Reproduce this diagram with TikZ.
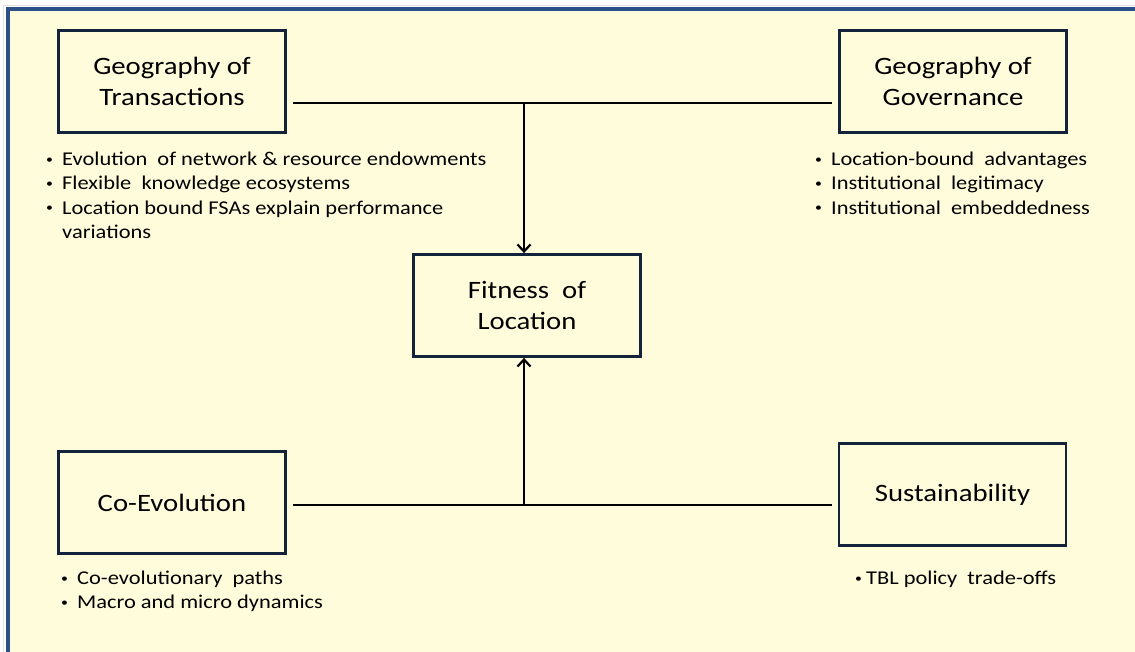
\documentclass[tikz,border=0pt]{standalone}
\usepackage{fontspec}
\setmainfont[FakeStretch=1.15]{Carlito}
\usetikzlibrary{arrows.meta}
\definecolor{bgyellow}{HTML}{FFFCDC}
\definecolor{boxline}{HTML}{14233C}
\definecolor{frameblue}{HTML}{2B4F86}
\tikzset{
  mainbox/.style={draw=boxline, line width=2.8pt, fill=bgyellow, minimum width=227pt, minimum height=102pt, align=center, font=\fontsize{25}{31}\selectfont, text=black, inner sep=0pt},
  bullets/.style={anchor=north west, align=left, font=\fontsize{19.5}{24.2}\selectfont, inner sep=0pt, text=black},
  conn/.style={line width=2.8pt, black},
}
\newcommand{\smallbul}{\raisebox{2.2pt}{\fontsize{12}{12}\selectfont\textbullet}}
\newcommand{\bitem}{\makebox[16pt][l]{\smallbul}}
\begin{document}
\begin{tikzpicture}[x=1pt,y=-1pt]
\useasboundingbox (0,0) rectangle (1135,651);
\fill[white] (0,0) rectangle (1135,651);
\begin{scope}
\clip (0,0) rectangle (1135,651);
\draw[black!12, line width=1pt] (3.5,5) rectangle (1145,665);
\draw[frameblue, line width=4pt, fill=bgyellow] (7.5,9.3) rectangle (1145,665);
\end{scope}

\node[mainbox] (gt) at (172,81.5) {Geography of\\Transactions};
\node[mainbox] (gg) at (953,81.5) {Geography of\\Governance};
\node[mainbox] (fl) at (527,305.5) {Fitness\ \ of\\Location};
\node[mainbox] (ce) at (172,502.5) {Co-Evolution};
\node[mainbox] (su) at (952.5,494.5) {Sustainability};

\node[bullets] (gtb) at (46,152) {\bitem Evolution\ \ of network \& resource endowments\\
\bitem Flexible\ \ knowledge ecosystems\\
\bitem Location bound FSAs explain performance\\
\hspace*{16pt}variations};
\node[bullets] (ggb) at (815,152) {\bitem Location-bound\ \ advantages\\
\bitem Institutional\ \ legitimacy\\
\bitem Institutional\ \ embeddedness};
\node[bullets] (ceb) at (61,571) {\bitem Co-evolutionary\ \ paths\\
\bitem Macro and micro dynamics};
\node[bullets] (sub) at (855,571) {\makebox[11pt][l]{\smallbul}TBL policy\ \ trade-offs};

\coordinate (jt) at (524,103);
\coordinate (jb) at (524,505);
\draw[conn] ([xshift=6pt]gt.east |- jt) -- ([xshift=-6pt]gg.west |- jt);
\draw[conn, -{Straight Barb[length=7pt,width=13pt,line width=2.2pt]}] (jt) -- (jt |- fl.north);
\draw[conn] ([xshift=6pt]ce.east |- jb) -- ([xshift=-6pt]su.west |- jb);
\draw[conn, -{Straight Barb[length=7pt,width=13pt,line width=2.2pt]}] (jb) -- (jb |- fl.south);
\end{tikzpicture}
\end{document}
